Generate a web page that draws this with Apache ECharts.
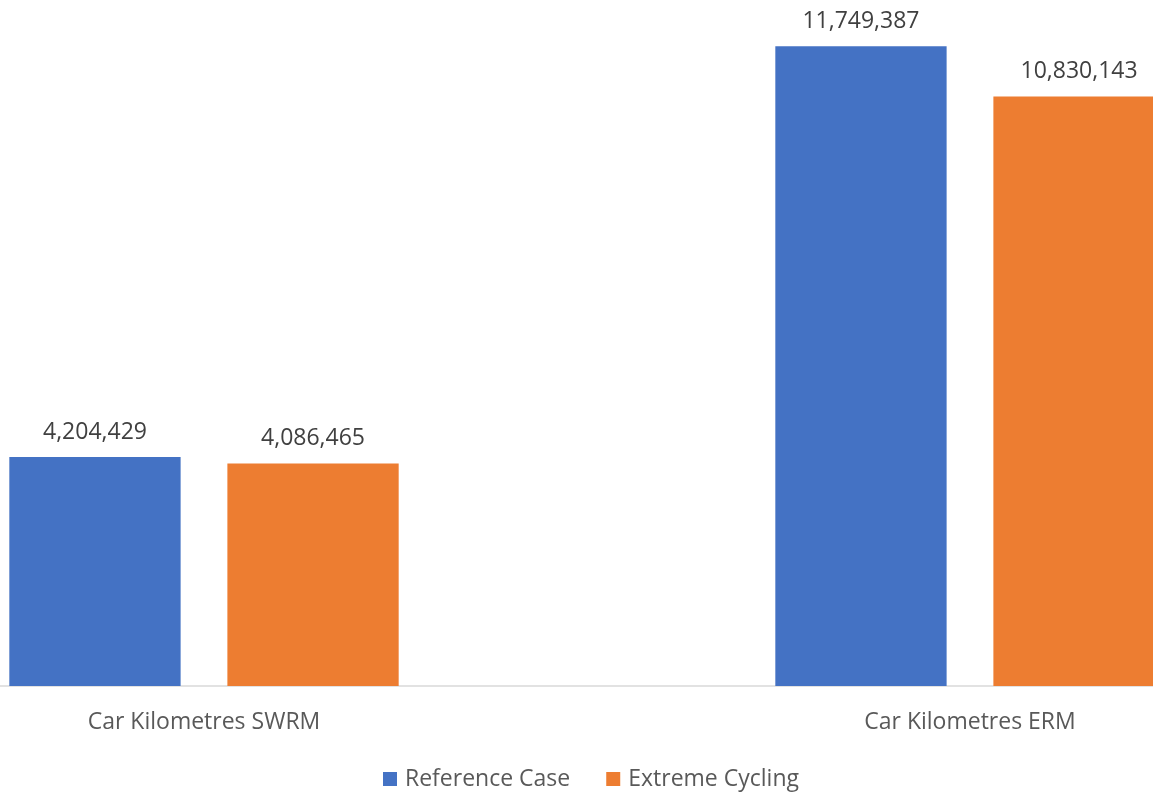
<!DOCTYPE html>
<html>
<head>
<meta charset="utf-8">
<script src="https://cdn.jsdelivr.net/npm/echarts@6/dist/echarts.min.js"></script>
<style>html,body{margin:0;padding:0;background:#fff;overflow:hidden;width:1153px;height:792px;position:relative}#c{position:absolute;left:-179.4px;top:0;width:1531.7px;height:792px}</style>
</head>
<body>
<div id="c"></div>
<script>
const categories = ["Car Kilometres SWRM", "Car Kilometres ERM"];
const referenceCase = [4204429, 11749387];
const extremeCycling = [4086465, 10830143];
const seriesNames = ["Reference Case", "Extreme Cycling"];

const FONT = "'Open Sans', 'Liberation Sans', sans-serif";
const chart = echarts.init(document.getElementById('c'), null, {renderer: 'canvas'});
const fmt = p => Number(p.value).toLocaleString('en-US');
const labelStyle = {show: true, position: 'top', distance: 13.5, color: '#404040', fontSize: 23, fontFamily: FONT, formatter: fmt};
chart.setOption({
  animation: false,
  backgroundColor: '#fff',
  grid: {left: 0, right: 0, top: 32.7, bottom: 106, containLabel: false},
  legend: {
    bottom: 1.5, left: 562, padding: 0, itemWidth: 14, itemHeight: 14, itemGap: 36,
    icon: 'rect',
    textStyle: {color: '#595959', fontSize: 23, fontFamily: FONT, padding: [0, 0, 0, 3]},
    data: seriesNames
  },
  xAxis: {
    type: 'category', data: categories,
    axisLine: {lineStyle: {color: '#d9d9d9', width: 1.5}},
    axisTick: {show: false},
    axisLabel: {color: '#595959', fontSize: 23, fontFamily: FONT, margin: 24.5}
  },
  yAxis: {
    type: 'value', min: 0, max: 12000000, show: false,
    splitLine: {show: false}
  },
  series: [
    {name: seriesNames[0], type: 'bar', data: referenceCase, barWidth: 171.3, barGap: '27.3%',
     itemStyle: {color: '#4472C4'}, label: labelStyle},
    {name: seriesNames[1], type: 'bar', data: extremeCycling, barWidth: 171.3,
     itemStyle: {color: '#ED7D31'}, label: labelStyle}
  ]
});
</script>
</body>
</html>
